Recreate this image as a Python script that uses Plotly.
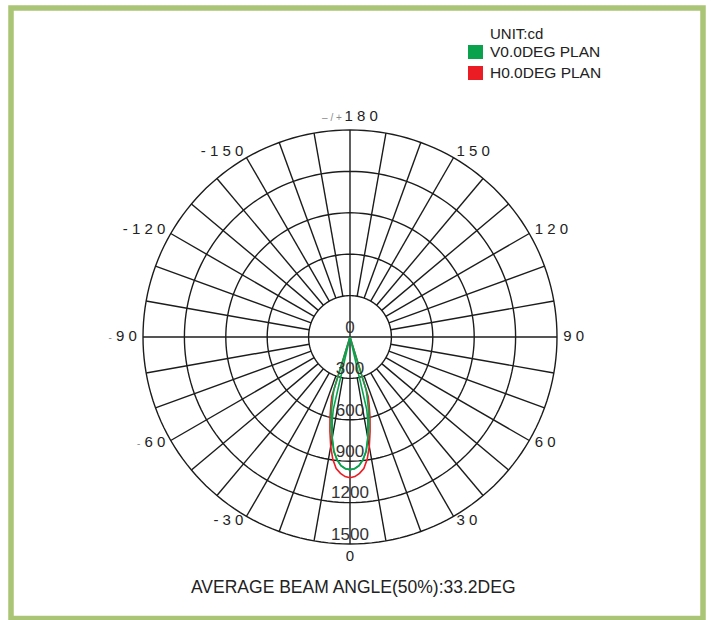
import plotly.graph_objects as go

# ---------------- data ----------------
RING_VALUES = [300, 600, 900, 1200, 1500]
RADIAL_TICK_VALUES = [0, 300, 600, 900, 1200, 1500]
RADIAL_TICK_LABELS = ["0", "300", "600", "900", "1200", "1500"]

SPOKE_ANGLES = list(range(-170, 181, 10))
AXIS_SPOKES = [0, 90, 180, -90]

GRAY_DASH = "<span style='font-size:10px;color:#8a8a8a'>-</span>"
# right-hand labels (anchored at their left edge)
RIGHT_TICKS = [30, 60, 90, 120, 150]
RIGHT_LABELS = ["3 0", "6 0", "9 0", "1 2 0", "1 5 0"]
# left-hand labels (anchored at their right edge)
LEFT_TICKS = [-30, -60, -90, -120, -150]
LEFT_LABELS = ["- 3 0", GRAY_DASH + " 6 0", GRAY_DASH + " 9 0", "- 1 2 0", "- 1 5 0"]
# top / bottom labels (centred)
END_TICKS = [0, 180]
END_LABELS = ["0", "<span style='font-size:10px;color:#8a8a8a'>\u2013 / + </span>1 8 0"]

SIDE_LABEL_RADIUS = 1545
END_LABEL_RADIUS = 1595
RADIAL_MAX = 1700

# H0.0DEG PLAN (red)
H_THETA = [-19, -17, -16, -14, -12, -10, -8, -6, -4, -2, 0, 2, 4, 6, 8, 10, 12, 14, 16, 17, 19]
H_CD = [0, 450, 500, 600, 700, 805, 895, 958, 990, 1012, 1020, 1012, 990, 958, 895, 805, 700, 600, 500, 450, 0]

# V0.0DEG PLAN (green) - two outlines
V_THETA_A = [-19, -17, -16, -14, -12, -10, -8, -6, -4, -2, 0, 2, 4, 6, 8, 10, 12, 14, 16, 17, 19]
V_CD_A = [0, 400, 450, 560, 660, 750, 840, 895, 935, 955, 961, 955, 935, 895, 840, 750, 660, 560, 450, 400, 0]
V_THETA_B = [-15, -13, -12, -10, -8, -6, -4, -2, 0, 2, 4, 6, 8, 10, 12, 13, 15]
V_CD_B = [0, 540, 620, 740, 835, 895, 935, 955, 961, 955, 935, 895, 835, 740, 620, 540, 0]

LEGEND_LABELS = ["UNIT:cd", "V0.0DEG PLAN", "H0.0DEG PLAN"]
CAPTION = "AVERAGE BEAM ANGLE(50%):33.2DEG"

GREEN = "#0aa24c"
RED = "#ec1c24"
GRID = "#1c1c1c"
FRAME = "#abc576"
FONT = "Liberation Sans, Arial, sans-serif"

W, H = 711, 620


def px(x):
    return x / W


def py(y):
    return 1 - y / H


fig = go.Figure()

# rings
ring_r, ring_t = [], []
circle_t = list(range(0, 361, 2))
for v in RING_VALUES:
    ring_r += [v] * len(circle_t) + [None]
    ring_t += circle_t + [None]
fig.add_trace(go.Scatterpolar(r=ring_r, theta=ring_t, mode="lines",
                              line=dict(color=GRID, width=1.4),
                              hoverinfo="skip", showlegend=False))

# spokes
sp_r, sp_t = [], []
for a in SPOKE_ANGLES:
    start = 0 if a in AXIS_SPOKES else RING_VALUES[0]
    sp_r += [start, RING_VALUES[-1], None]
    sp_t += [a, a, None]
fig.add_trace(go.Scatterpolar(r=sp_r, theta=sp_t, mode="lines",
                              line=dict(color=GRID, width=1.4),
                              hoverinfo="skip", showlegend=False))

# curves
fig.add_trace(go.Scatterpolar(r=H_CD, theta=H_THETA, mode="lines",
                              line=dict(color=RED, width=1.6), name=LEGEND_LABELS[2],
                              showlegend=False))
fig.add_trace(go.Scatterpolar(r=V_CD_A + [None] + V_CD_B,
                              theta=V_THETA_A + [None] + V_THETA_B, mode="lines",
                              line=dict(color=GREEN, width=1.6), name=LEGEND_LABELS[1],
                              showlegend=False))

# radial labels
fig.add_trace(go.Scatterpolar(r=RADIAL_TICK_VALUES, theta=[0] * len(RADIAL_TICK_VALUES),
                              mode="text", text=RADIAL_TICK_LABELS,
                              textposition="top center", cliponaxis=False,
                              textfont=dict(family=FONT, size=17, color="#333333"),
                              hoverinfo="skip", showlegend=False))

# angular labels
angle_font = dict(family=FONT, size=15, color="#222222")
for ticks, labels, rad, pos in [
    (RIGHT_TICKS, RIGHT_LABELS, SIDE_LABEL_RADIUS, "middle right"),
    (LEFT_TICKS, LEFT_LABELS, SIDE_LABEL_RADIUS, "middle left"),
    (END_TICKS, END_LABELS, END_LABEL_RADIUS, "middle center"),
]:
    fig.add_trace(go.Scatterpolar(r=[rad] * len(ticks), theta=ticks,
                                  mode="text", text=labels,
                                  textposition=pos, cliponaxis=False,
                                  textfont=angle_font,
                                  hoverinfo="skip", showlegend=False))

cx, cy, R = 350, 337, 207
RO = R * RADIAL_MAX / RING_VALUES[-1]
fig.update_layout(
    width=W, height=H,
    margin=dict(l=0, r=0, t=0, b=0),
    paper_bgcolor="white", plot_bgcolor="white",
    showlegend=False,
    polar=dict(
        domain=dict(x=[px(cx - RO), px(cx + RO)], y=[py(cy + RO), py(cy - RO)]),
        bgcolor="rgba(0,0,0,0)",
        radialaxis=dict(range=[0, RADIAL_MAX], visible=False, showgrid=False),
        angularaxis=dict(rotation=-90, direction="counterclockwise",
                         showgrid=False, showline=False, showticklabels=False,
                         ticks="", visible=False),
    ),
    shapes=[
        dict(type="rect", xref="paper", yref="paper",
             x0=px(11), x1=px(703), y0=py(618.5), y1=py(8),
             line=dict(color=FRAME, width=5.5), fillcolor="rgba(0,0,0,0)", layer="below"),
        dict(type="rect", xref="paper", yref="paper",
             x0=px(468), x1=px(483), y0=py(59), y1=py(45),
             line=dict(width=0), fillcolor=GREEN),
        dict(type="rect", xref="paper", yref="paper",
             x0=px(468), x1=px(483), y0=py(80), y1=py(66),
             line=dict(width=0), fillcolor=RED),
    ],
    annotations=[
        dict(text=LEGEND_LABELS[0], x=px(488), y=py(33), xref="paper", yref="paper",
             xanchor="left", yanchor="middle", showarrow=False,
             font=dict(family=FONT, size=15, color="#222222")),
        dict(text=LEGEND_LABELS[1], x=px(488), y=py(52), xref="paper", yref="paper",
             xanchor="left", yanchor="middle", showarrow=False,
             font=dict(family=FONT, size=15.5, color="#222222")),
        dict(text=LEGEND_LABELS[2], x=px(488), y=py(73), xref="paper", yref="paper",
             xanchor="left", yanchor="middle", showarrow=False,
             font=dict(family=FONT, size=15.5, color="#222222")),
        dict(text=CAPTION, x=px(353), y=py(587), xref="paper", yref="paper",
             xanchor="center", yanchor="middle", showarrow=False,
             font=dict(family=FONT, size=17.5, color="#222222")),
    ],
)

fig.write_html("out.html", config={"displayModeBar": False},
               post_script="document.body.style.margin='0px';")
